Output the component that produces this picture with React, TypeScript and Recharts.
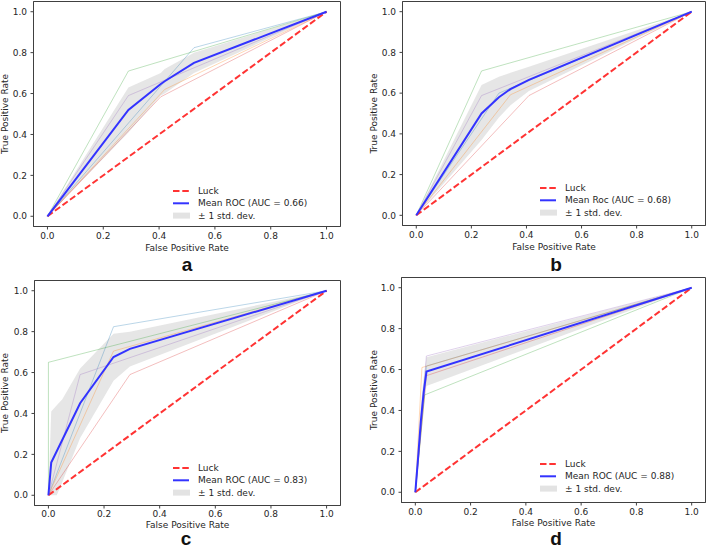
import React from 'react';
import {
  ComposedChart,
  Line,
  Area,
  XAxis,
  YAxis,
  ReferenceArea,
  Legend,
} from 'recharts';

const axisTicks = [0, 0.2, 0.4, 0.6, 0.8, 1.0];
const foldColors = ['#1f77b4', '#ff7f0e', '#2ca02c', '#d62728', '#9467bd'];
const luckFpr = [0, 1];
const luckTpr = [0, 1];

// panel a
const kneeFprA = [0.525, 0.42, 0.29, 0.406, 0.29];
const kneeTprA = [0.824, 0.62, 0.71, 0.584, 0.59];
const meanFprA = [0, 0.29, 0.406, 0.42, 0.525, 1];
const meanTprA = [0, 0.52, 0.647, 0.66, 0.75, 1];
const bandLoA = [0, 0.41, 0.59, 0.6, 0.7, 1];
const bandHiA = [0, 0.63, 0.7, 0.72, 0.8, 1];

// panel b
const kneeFprB = [0.3, 0.342, 0.237, 0.409, 0.237];
const kneeTprB = [0.6, 0.592, 0.709, 0.588, 0.588];
const meanFprB = [0, 0.237, 0.3, 0.342, 0.409, 1];
const meanTprB = [0, 0.5, 0.58, 0.62, 0.665, 1];
const bandLoB = [0, 0.37, 0.48, 0.54, 0.61, 1];
const bandHiB = [0, 0.64, 0.68, 0.7, 0.73, 1];

// panel c
const kneeFprC = [0.234, 0.234, 0, 0.293, 0.114];
const kneeTprC = [0.824, 0.705, 0.65, 0.59, 0.59];
const meanFprC = [0, 0.0101, 0.114, 0.234, 0.293, 1];
const meanTprC = [0, 0.16, 0.45, 0.676, 0.716, 1];
const bandFprC = [0, 0.0101, 0.03, 0.05, 0.114, 0.234, 0.293, 1];
const bandLoC = [0, 0, 0, 0.065, 0.28, 0.56, 0.63, 1];
const bandHiC = [0, 0.41, 0.44, 0.47, 0.62, 0.79, 0.8, 1];

// panel d
const kneeFprD = [0.04, 0.024, 0.034, 0.04, 0.04];
const kneeTprD = [0.617, 0.61, 0.476, 0.57, 0.666];
const meanFprD = [0, 0.0101, 0.0202, 0.0303, 0.0404, 1];
const meanTprD = [0, 0.17, 0.35, 0.49, 0.59, 1];
const bandLoD = [0, 0.13, 0.26, 0.42, 0.52, 1];
const bandHiD = [0, 0.22, 0.43, 0.56, 0.66, 1];

const toPoints = (fpr: number[], tpr: number[]) =>
  fpr.map((f, i) => ({ fpr: f, tpr: tpr[i] }));
const toBand = (fpr: number[], lo: number[], hi: number[]) =>
  fpr.map((f, i) => ({ fpr: f, band: [lo[i], hi[i]] }));
const foldCurves = (fpr: number[], tpr: number[]) =>
  fpr.map((f, i) => [
    { fpr: 0, tpr: 0 },
    { fpr: f, tpr: tpr[i] },
    { fpr: 1, tpr: 1 },
  ]);

const FONT = '"DejaVu Sans", sans-serif';
const TEXT = '#262626';
const FRAME = '#404040';

function RocLegend({ meanLabel }: { meanLabel: string }) {
  const rows = [6, 18.3, 30.6];
  return (
    <svg width={180} height={38} style={{ display: 'block' }}>
      <line x1={2} x2={18} y1={rows[0]} y2={rows[0]} stroke="#ff3333" strokeWidth={2} strokeDasharray="6.5 2.8" />
      <line x1={2} x2={18} y1={rows[1]} y2={rows[1]} stroke="#3333ff" strokeWidth={2} />
      <rect x={2} y={rows[2] - 3} width={17} height={6} fill="#808080" fillOpacity={0.22} />
      {['Luck', meanLabel, '\u00b1 1 std. dev.'].map((t, i) => (
        <text key={i} x={27} y={rows[i]} dy="0.35em" fontSize={9} fontFamily={FONT} fill={TEXT}>
          {t}
        </text>
      ))}
    </svg>
  );
}

interface PanelProps {
  left: number;
  top: number;
  width: number;
  height: number;
  plot: { left: number; top: number; right: number; bottom: number };
  xTickMargin: number;
  yLabelX: number;
  xLabelBaseline: number;
  legendPos: { left: number; top: number };
  meanLabel: string;
  kneeFpr: number[];
  kneeTpr: number[];
  meanFpr: number[];
  meanTpr: number[];
  bandFpr: number[];
  bandLo: number[];
  bandHi: number[];
}

function RocPanel(p: PanelProps) {
  const folds = foldCurves(p.kneeFpr, p.kneeTpr);
  const tickStyle = { fontSize: 9, fill: TEXT, fontFamily: FONT };
  const fmt = (v: number) => v.toFixed(1);
  return (
    <div style={{ position: 'absolute', left: p.left, top: p.top }}>
      <ComposedChart
        width={p.width}
        height={p.height}
        data={toBand(p.bandFpr, p.bandLo, p.bandHi)}
        margin={{ top: p.plot.top, right: p.width - p.plot.right, left: 0, bottom: 0 }}
      >
        <XAxis
          dataKey="fpr"
          type="number"
          domain={[-0.05, 1.05]}
          ticks={axisTicks}
          tickFormatter={fmt}
          height={p.height - p.plot.bottom}
          tick={tickStyle}
          tickSize={3}
          tickMargin={p.xTickMargin}
          axisLine={{ stroke: FRAME }}
          tickLine={{ stroke: FRAME }}
          label={{
            value: 'False Positive Rate',
            position: 'insideBottom',
            offset: p.height - p.xLabelBaseline,
            style: { fontSize: 9, fill: TEXT, fontFamily: FONT },
          }}
        />
        <YAxis
          type="number"
          domain={[-0.05, 1.05]}
          ticks={axisTicks}
          tickFormatter={fmt}
          width={p.plot.left}
          tick={tickStyle}
          tickSize={3}
          tickMargin={3.5}
          axisLine={{ stroke: FRAME }}
          tickLine={{ stroke: FRAME }}
          label={{
            value: 'True Positive Rate',
            angle: -90,
            position: 'insideLeft',
            offset: p.yLabelX,
            style: { fontSize: 9, fill: TEXT, fontFamily: FONT, textAnchor: 'middle' },
          }}
        />
        {folds.map((d, i) => (
          <Line
            key={i}
            data={d}
            dataKey="tpr"
            type="linear"
            stroke={foldColors[i]}
            strokeOpacity={0.3}
            strokeWidth={1}
            dot={false}
            activeDot={false}
            isAnimationActive={false}
          />
        ))}
        <Line
          data={toPoints(luckFpr, luckTpr)}
          dataKey="tpr"
          type="linear"
          stroke="#ff3333"
          strokeWidth={2}
          strokeDasharray="6.5 2.8"
          dot={false}
          activeDot={false}
          isAnimationActive={false}
        />
        <Area
          dataKey="band"
          type="linear"
          fill="#808080"
          fillOpacity={0.2}
          stroke="none"
          dot={false}
          activeDot={false}
          isAnimationActive={false}
        />
        <Line
          data={toPoints(p.meanFpr, p.meanTpr)}
          dataKey="tpr"
          type="linear"
          stroke="#3333ff"
          strokeWidth={2}
          dot={false}
          activeDot={false}
          isAnimationActive={false}
        />
        <ReferenceArea
          x1={-0.05}
          x2={1.05}
          y1={-0.05}
          y2={1.05}
          fill="none"
          fillOpacity={0}
          stroke={FRAME}
          strokeWidth={1}
        />
        <Legend
          layout="vertical"
          align="center"
          verticalAlign="middle"
          wrapperStyle={{ left: p.legendPos.left, top: p.legendPos.top, width: 180 }}
          content={() => <RocLegend meanLabel={p.meanLabel} />}
        />
      </ComposedChart>
    </div>
  );
}

const panelLetters = [
  { t: 'a', x: 187, y: 271 },
  { t: 'b', x: 556, y: 271 },
  { t: 'c', x: 186, y: 544.9 },
  { t: 'd', x: 556, y: 544.9 },
];

export default function App() {
  return (
    <div
      style={{
        position: 'absolute',
        left: 0,
        top: 0,
        width: 708,
        height: 549,
        background: '#fff',
        overflow: 'hidden',
      }}
    >
      <RocPanel
        left={0}
        top={0}
        width={354}
        height={275}
        plot={{ left: 33.5, top: 1.5, right: 340.5, bottom: 226.5 }}
        xTickMargin={3.5}
        yLabelX={5}
        xLabelBaseline={251}
        legendPos={{ left: 170.7, top: 184.7 }}
        meanLabel="Mean ROC (AUC = 0.66)"
        kneeFpr={kneeFprA}
        kneeTpr={kneeTprA}
        meanFpr={meanFprA}
        meanTpr={meanTprA}
        bandFpr={meanFprA}
        bandLo={bandLoA}
        bandHi={bandHiA}
      />
      <RocPanel
        left={354}
        top={0}
        width={354}
        height={275}
        plot={{ left: 48.5, top: 1.5, right: 351.5, bottom: 225.5 }}
        xTickMargin={3.5}
        yLabelX={20}
        xLabelBaseline={250}
        legendPos={{ left: 183.7, top: 181.7 }}
        meanLabel="Mean Roc (AUC = 0.68)"
        kneeFpr={kneeFprB}
        kneeTpr={kneeTprB}
        meanFpr={meanFprB}
        meanTpr={meanTprB}
        bandFpr={meanFprB}
        bandLo={bandLoB}
        bandHi={bandHiB}
      />
      <RocPanel
        left={0}
        top={275}
        width={354}
        height={274}
        plot={{ left: 34.5, top: 5.5, right: 340.5, bottom: 230.5 }}
        xTickMargin={2}
        yLabelX={5}
        xLabelBaseline={252.5}
        legendPos={{ left: 171.3, top: 186.7 }}
        meanLabel="Mean ROC (AUC = 0.83)"
        kneeFpr={kneeFprC}
        kneeTpr={kneeTprC}
        meanFpr={meanFprC}
        meanTpr={meanTprC}
        bandFpr={bandFprC}
        bandLo={bandLoC}
        bandHi={bandHiC}
      />
      <RocPanel
        left={354}
        top={275}
        width={354}
        height={274}
        plot={{ left: 47.5, top: 2.5, right: 351.5, bottom: 227.5 }}
        xTickMargin={3.5}
        yLabelX={20}
        xLabelBaseline={250.5}
        legendPos={{ left: 183.7, top: 183.3 }}
        meanLabel="Mean ROC (AUC = 0.88)"
        kneeFpr={kneeFprD}
        kneeTpr={kneeTprD}
        meanFpr={meanFprD}
        meanTpr={meanTprD}
        bandFpr={meanFprD}
        bandLo={bandLoD}
        bandHi={bandHiD}
      />
      <svg
        width={708}
        height={549}
        style={{ position: 'absolute', left: 0, top: 0, pointerEvents: 'none' }}
      >
        {panelLetters.map((l) => (
          <text
            key={l.t}
            x={l.x}
            y={l.y}
            textAnchor="middle"
            fontSize={19}
            fontWeight="bold"
            fontFamily='"Liberation Sans", Arial, sans-serif'
            fill="#111"
          >
            {l.t}
          </text>
        ))}
      </svg>
    </div>
  );
}
